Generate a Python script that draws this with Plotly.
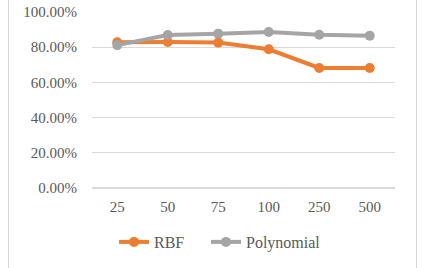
import plotly.graph_objects as go

categories = ["25", "50", "75", "100", "250", "500"]
rbf = [0.828, 0.830, 0.826, 0.788, 0.682, 0.682]
poly = [0.812, 0.869, 0.877, 0.886, 0.871, 0.865]
y_ticks = [0, 0.2, 0.4, 0.6, 0.8, 1.0]

W, H = 422, 268
ml, mr, mt, mb = 92, 27, 12, 80
pw, ph = W - ml - mr, H - mt - mb

def px2x(px):
    return (px - ml) / pw

def py2y(py):
    return (H - mb - py) / ph

font = dict(family="Liberation Serif", size=15, color="#595959")
legend_font = dict(family="Liberation Serif", size=16, color="#595959")

fig = go.Figure()
fig.add_trace(go.Scatter(x=categories, y=rbf, name="RBF", mode="lines+markers",
                         line=dict(color="#ED7D31", width=4),
                         marker=dict(color="#ED7D31", size=10), legend="legend"))
fig.add_trace(go.Scatter(x=categories, y=poly, name="Polynomial", mode="lines+markers",
                         line=dict(color="#A5A5A5", width=4),
                         marker=dict(color="#A5A5A5", size=10), legend="legend2"))

legend_common = dict(orientation="h", xanchor="left", y=py2y(242), yanchor="middle",
                     font=legend_font, itemwidth=30, bgcolor="rgba(0,0,0,0)")

fig.update_layout(
    width=W, height=H,
    margin=dict(l=ml, r=mr, t=mt, b=mb, autoexpand=False),
    paper_bgcolor="white", plot_bgcolor="white",
    font=font,
    showlegend=True,
    legend=dict(x=px2x(114), **legend_common),
    legend2=dict(x=px2x(206), **legend_common),
    xaxis=dict(type="category", range=[-0.5, 5.5], showgrid=False, showline=False, zeroline=False,
               ticks="", tickfont=font, ticklabelstandoff=8, automargin=False),
    yaxis=dict(range=[0, 1.0], tickvals=y_ticks, tickformat=".2%", showgrid=True,
               gridcolor="#D9D9D9", gridwidth=1, zeroline=True, zerolinecolor="#D9D9D9",
               showline=False, ticks="", tickfont=font, ticklabelstandoff=14, automargin=False),
    shapes=[dict(type="rect", xref="paper", yref="paper",
                 x0=px2x(8.5), x1=px2x(416.5), y0=py2y(290), y1=py2y(-20),
                 line=dict(color="#D9D9D9", width=1), fillcolor="rgba(0,0,0,0)", layer="below")],
)

fig.write_html("out.html")
